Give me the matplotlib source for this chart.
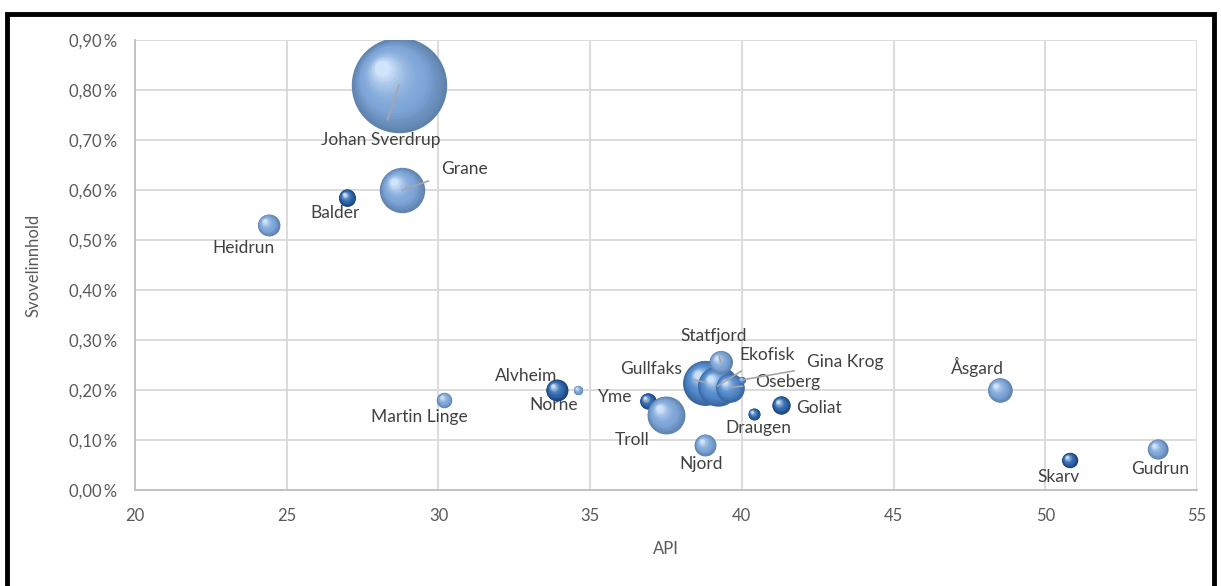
import numpy as np
import matplotlib
matplotlib.use("Agg")
import matplotlib.pyplot as plt
from matplotlib.colors import to_rgb
from matplotlib.transforms import ScaledTranslation
from matplotlib.ticker import FuncFormatter, MultipleLocator
from matplotlib.patches import Rectangle

plt.rcParams['font.family'] = ['Lato', 'DejaVu Sans']

# felt, API, svovel (%), relativ boblestorrelse
felt = ["Johan Sverdrup", "Grane", "Balder", "Heidrun", "Martin Linge",
        "Alvheim", "Norne", "Yme", "Troll", "Njord",
        "Gullfaks", "Ekofisk", "Oseberg", "Gina Krog", "Statfjord",
        "Draugen", "Goliat", "Åsgard", "Skarv", "Gudrun"]
api = [28.7, 28.8, 27.0, 24.4, 30.2,
       33.9, 34.6, 36.9, 37.5, 38.8,
       38.8, 39.2, 39.6, 40.0, 39.3,
       40.4, 41.3, 48.5, 50.8, 53.7]
svovel = [0.81, 0.60, 0.585, 0.53, 0.18,
          0.20, 0.20, 0.178, 0.15, 0.09,
          0.215, 0.208, 0.205, 0.22, 0.256,
          0.152, 0.17, 0.20, 0.06, 0.082]
storrelse = [1900, 430, 60, 100, 50,
             100, 18, 55, 300, 100,
             420, 340, 170, 10, 110,
             30, 70, 125, 50, 85]
mork = ["Balder", "Alvheim", "Yme", "Draugen", "Goliat", "Skarv"]
middels = ["Gullfaks", "Ekofisk", "Oseberg", "Gina Krog"]

# label placement: offset of text centre from bubble (px, y down) and leader line
etikett = {
    "Johan Sverdrup": (-18, 55, True),
    "Grane": (62, -21, True),
    "Balder": (-12, 16, False),
    "Heidrun": (-25, 23, False),
    "Martin Linge": (-25, 17, False),
    "Alvheim": (-31, -14, False),
    "Norne": (-24, 15, False),
    "Yme": (-33, -4, True),
    "Troll": (-34, 25, False),
    "Njord": (-4, 19, False),
    "Gullfaks": (-54, -13, True),
    "Ekofisk": (49, -31, True),
    "Oseberg": (58, -6, True),
    "Gina Krog": (103, -18, True),
    "Statfjord": (-7, -26, True),
    "Draugen": (4, 14, False),
    "Goliat": (38, 3, False),
    "Åsgard": (-22, -23, False),
    "Skarv": (-11, 17, False),
    "Gudrun": (3, 20, False),
}

fig = plt.figure(figsize=(12.21, 5.86), dpi=100)
ax = fig.add_axes([135 / 1221, 1 - 490 / 586, 1062 / 1221, 450 / 586])

px = 72 / fig.dpi
ks = 1.2


def blend(c, w, t):
    c = np.array(to_rgb(c))
    w = np.array(to_rgb(w))
    return tuple(c * (1 - t) + w * t)


def farge(base, edge, t):
    if t < 0.35:
        return blend(edge, base, t / 0.35)
    return blend(base, "#dcecff", ((t - 0.35) / 0.65) ** 1.8)


for i, navn in enumerate(felt):
    if navn in mork:
        base, edge = "#2f67ad", "#1d4274"
    elif navn in middels:
        base, edge = "#5189cb", "#3a66a0"
    else:
        base, edge = "#7ea6d8", "#5f82ad"
    s = storrelse[i] * ks * 2.07
    r = np.sqrt(s) / 2
    n = 24
    for k in range(n):
        t = k / n
        f = 1 - 0.88 * t
        tr = ax.transData + ScaledTranslation(-(1 - f) * r * 0.42 / 72,
                                              (1 - f) * r * 0.42 / 72,
                                              fig.dpi_scale_trans)
        ax.scatter([api[i]], [svovel[i]], s=s * f ** 2, color=farge(base, edge, t),
                   zorder=3 + i * 0.01, linewidths=0, transform=tr)

for i, navn in enumerate(felt):
    dx, dy, linje = etikett[navn]
    ax.annotate(navn, (api[i], svovel[i]), xytext=(dx * px, -dy * px),
                textcoords="offset points", ha="center", va="center",
                fontsize=12.5, color="#404040", zorder=10,
                arrowprops=dict(arrowstyle="-", color="#a6a6a6", lw=1.2,
                                shrinkA=7, shrinkB=0) if linje else None)

ax.set_xlim(20, 55)
ax.set_ylim(0, 0.9)
ax.xaxis.set_major_locator(MultipleLocator(5))
ax.yaxis.set_major_locator(MultipleLocator(0.1))
ax.yaxis.set_major_formatter(FuncFormatter(lambda v, p: f"{v:.2f}".replace(".", ",") + "\u2009%"))
ax.grid(True, color="#d9d9d9", lw=1.3)
ax.set_axisbelow(True)
for sp in ["top", "right"]:
    ax.spines[sp].set_visible(False)
for sp in ["left", "bottom"]:
    ax.spines[sp].set_color("#bfbfbf")
    ax.spines[sp].set_linewidth(1.3)
ax.tick_params(length=0, labelsize=12, colors="#595959")
ax.tick_params(axis="y", pad=13)
ax.tick_params(axis="x", pad=13)
ax.set_xlabel("API", fontsize=12, color="#595959", labelpad=12)
ax.set_ylabel("Svovelinnhold", fontsize=12, color="#595959", labelpad=20)

fig.patches.append(Rectangle((7 / 1221, -0.05), 1207 / 1221, 1.05 - 14 / 586,
                             transform=fig.transFigure, fill=False,
                             edgecolor="black", lw=3.5))

fig.savefig("out.png", dpi=100)
